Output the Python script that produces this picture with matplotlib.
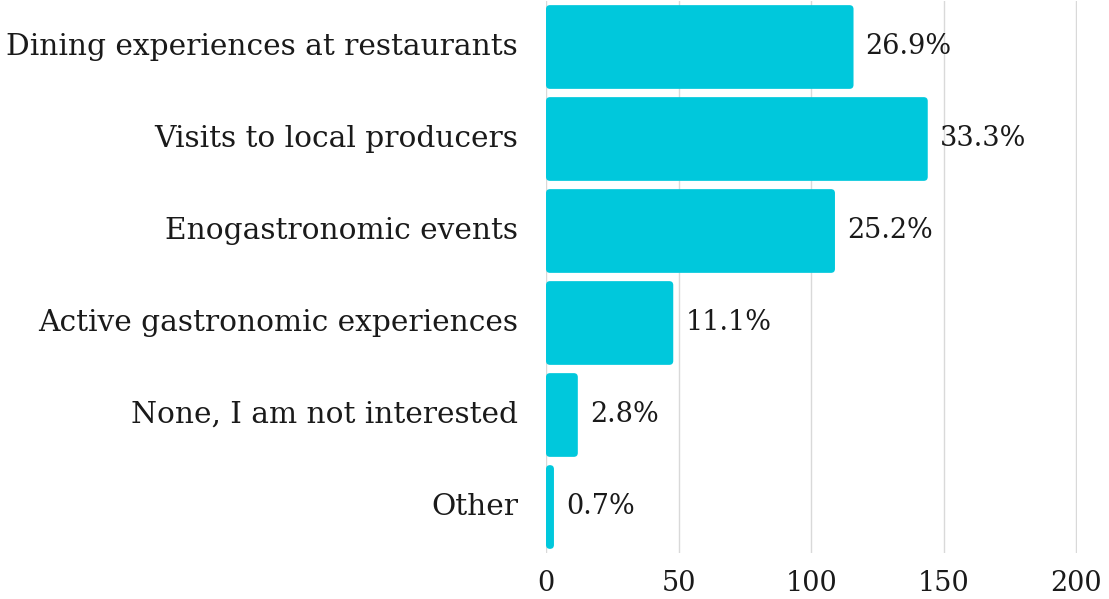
import matplotlib
matplotlib.use("Agg")
import matplotlib.pyplot as plt
from matplotlib.patches import FancyBboxPatch

categories = ["Dining experiences at restaurants", "Visits to local producers",
              "Enogastronomic events", "Active gastronomic experiences",
              "None, I am not interested", "Other"]
counts = [116, 144, 109, 48, 12, 3]
pct_labels = ["26.9%", "33.3%", "25.2%", "11.1%", "2.8%", "0.7%"]
xticks = [0, 50, 100, 150, 200]

W, H = 1109, 599
fig = plt.figure(figsize=(W / 100, H / 100), dpi=100)
left, right, top, bottom = 546, 1077, 1, 553
ax = fig.add_axes([left / W, 1 - bottom / H, (right - left) / W, (bottom - top) / H])

FONT = "DejaVu Serif"
FS_CAT = 21.3
FS = 19.5
color = "#00C8DC"
tc = "#1a1a1a"

y = list(range(len(categories)))
bars = ax.barh(y, counts, height=0.91, color=color, zorder=2)
ax.set_xlim(0, 200.3)
ax.set_ylim(len(categories) - 0.5, -0.5)

# replace with rounded bars
px_x = (right - left) / 200.3
px_y = (bottom - top) / len(categories)
r_px = 4
for b in bars:
    b.set_visible(False)
    x0, y0 = b.get_x(), b.get_y()
    w, h = b.get_width(), b.get_height()
    rs = r_px / px_x
    p = FancyBboxPatch((x0, y0), w, h,
                       boxstyle=f"round,pad=0,rounding_size={rs}",
                       mutation_aspect=(r_px / px_y) / rs,
                       facecolor=color, edgecolor="none", zorder=2)
    ax.add_patch(p)

for yi, v, lab in zip(y, counts, pct_labels):
    ax.annotate(lab, (v, yi), xytext=(12, 0), textcoords="offset pixels",
                ha="left", va="center", fontsize=FS, family=FONT, color=tc)

ax.set_yticks(y)
ax.set_yticklabels(categories, fontsize=FS_CAT, family=FONT, color=tc)
for t in ax.get_yticklabels():
    t.set_verticalalignment("center")
ax.set_xticks(xticks)
ax.set_xticklabels([str(t) for t in xticks], fontsize=FS, family=FONT, color=tc)
ax.tick_params(axis="y", length=0, pad=20)
ax.tick_params(axis="x", length=0, pad=12)
for s in ax.spines.values():
    s.set_visible(False)
ax.grid(axis="x", color="#D9D9D9", linewidth=1, zorder=0)
ax.set_axisbelow(True)

fig.savefig("out.png", dpi=100, facecolor="white")
